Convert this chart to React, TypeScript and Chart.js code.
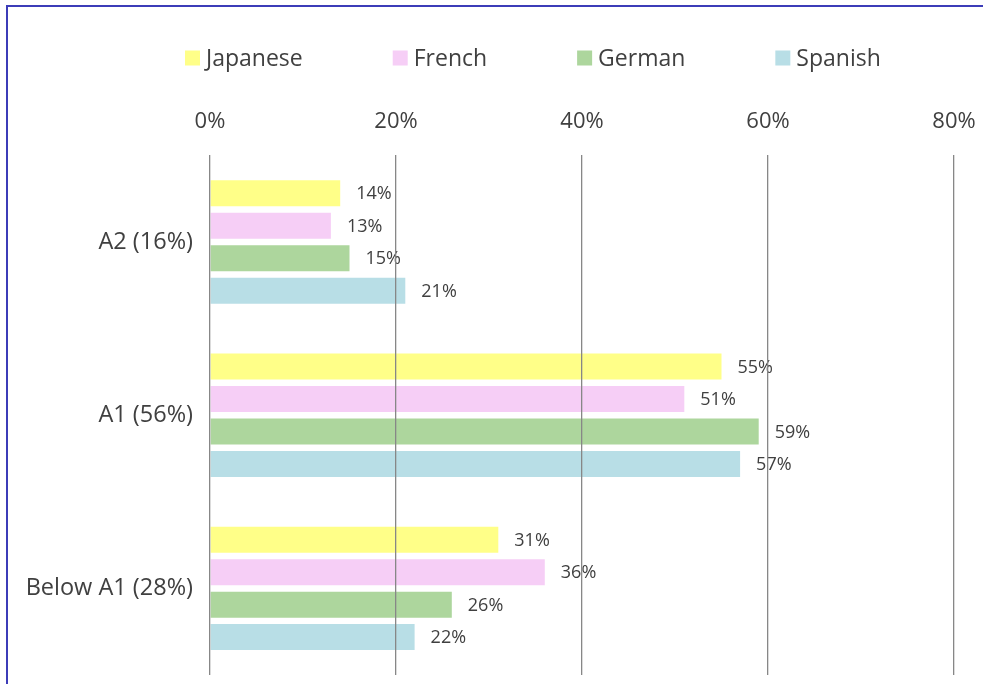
import React, { useEffect, useRef } from "react";
import { Chart, registerables } from "chart.js";

Chart.register(...registerables);

const categories = ["A2 (16%)", "A1 (56%)", "Below A1 (28%)"];
const seriesNames = ["Japanese", "French", "German", "Spanish"];
const japanese = [14, 55, 31];
const french = [13, 51, 36];
const german = [15, 59, 26];
const spanish = [21, 57, 22];
const seriesColors = ["#FFFF88", "#F6CEF6", "#ADD69D", "#B8DEE6"];
const xTicks = [0, 20, 40, 60, 80];

const FONT = "'Open Sans', 'Noto Sans', sans-serif";
const TEXT = "#404040";

const legendPlugin = {
  id: "customLegend",
  afterDraw(chart: any) {
    const ctx = chart.ctx;
    ctx.save();
    ctx.font = `23px ${FONT}`;
    ctx.textBaseline = "middle";
    ctx.textAlign = "left";
    const box = 15;
    const gapText = 6;
    const gap = 90;
    let x = 185;
    const y = 58;
    chart.data.datasets.forEach((ds: any) => {
      ctx.fillStyle = ds.backgroundColor;
      ctx.fillRect(x, y - box / 2, box, box);
      ctx.fillStyle = TEXT;
      ctx.fillText(ds.label, x + box + gapText, y + 1);
      x += box + gapText + ctx.measureText(ds.label).width + gap;
    });
    ctx.restore();
  },
};

const valueLabelPlugin = {
  id: "valueLabels",
  afterDatasetsDraw(chart: any) {
    const ctx = chart.ctx;
    ctx.save();
    ctx.font = `18px ${FONT}`;
    ctx.fillStyle = TEXT;
    ctx.textBaseline = "middle";
    ctx.textAlign = "left";
    chart.data.datasets.forEach((ds: any, i: number) => {
      const meta = chart.getDatasetMeta(i);
      meta.data.forEach((bar: any, j: number) => {
        ctx.fillText(`${ds.data[j]}%`, bar.x + 16, bar.y + 1);
      });
    });
    ctx.restore();
  },
};

export default function App() {
  const ref = useRef<HTMLCanvasElement | null>(null);
  useEffect(() => {
    document.body.style.margin = "0";
    const values = [japanese, french, german, spanish];
    const chart = new Chart(ref.current as HTMLCanvasElement, {
      type: "bar",
      data: {
        labels: categories,
        datasets: seriesNames.map((name, i) => ({
          label: name,
          data: values[i],
          backgroundColor: seriesColors[i],
          borderWidth: 0,
          categoryPercentage: 0.75,
          barPercentage: 0.8,
        })),
      },
      options: {
        indexAxis: "y",
        animation: false,
        responsive: false,
        maintainAspectRatio: false,
        layout: { padding: { top: 89, right: 29, bottom: 9, left: 0 } },
        plugins: {
          legend: { display: false },
          tooltip: { enabled: false },
        },
        scales: {
          x: {
            position: "top",
            min: 0,
            max: 80,
            afterBuildTicks(scale: any) {
              scale.ticks = xTicks.map((v) => ({ value: v }));
            },
            afterFit(scale: any) {
              scale.paddingLeft = 0;
              scale.paddingRight = 0;
            },
            ticks: {
              callback: (v: any) => `${v}%`,
              font: { family: FONT, size: 22 },
              color: TEXT,
              padding: 20,
              maxRotation: 0,
            },
            grid: { color: "#878787", lineWidth: 1.3, drawTicks: false, z: 1 },
            border: { display: false },
          },
          y: {
            afterFit(scale: any) {
              scale.width = 210;
              scale.paddingTop = 0;
              scale.paddingBottom = 0;
            },
            ticks: {
              font: { family: FONT, size: 23.5 },
              color: TEXT,
              padding: 17,
            },
            grid: { display: false, drawTicks: false },
            border: { display: false },
          },
        },
      },
      plugins: [valueLabelPlugin, legendPlugin],
    });
    return () => chart.destroy();
  }, []);
  return (
    <div style={{ position: "relative", width: 983, height: 684, overflow: "hidden", background: "#fff" }}>
      <canvas ref={ref} width={983} height={684} style={{ position: "absolute", left: 0, top: 0 }} />
      <div
        style={{
          position: "absolute",
          left: 6,
          top: 5,
          width: 1100,
          height: 800,
          borderLeft: "2px solid #3C3CB8",
          borderTop: "2px solid #3C3CB8",
          pointerEvents: "none",
        }}
      />
    </div>
  );
}
